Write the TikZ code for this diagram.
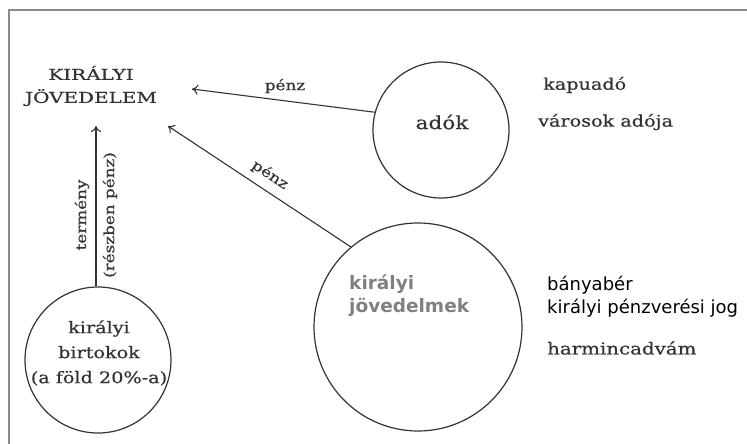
\documentclass[tikz,border=0pt]{standalone}
\usepackage{fontspec}
\setmainfont{DejaVu Serif}[FakeStretch=1.2,FakeBold=0.6]
\newfontfamily\titlef{DejaVu Serif}[FakeStretch=1.33,FakeBold=0.6]
\newfontfamily\sansf{DejaVu Sans}
\usetikzlibrary{arrows.meta}
\definecolor{ink}{HTML}{333333}
\definecolor{frame}{HTML}{8A8A8A}
\definecolor{graytxt}{HTML}{808080}
\begin{document}
\begin{tikzpicture}[x=1pt,y=-1pt,
  ring/.style={circle,draw=ink,line width=1.2pt,inner sep=0pt},
  arr/.style={draw=ink,line width=1.1pt,-{To[length=6pt,width=10pt]}},
  lbl/.style={text=ink,font=\fontsize{14}{16}\selectfont,inner sep=0pt},
  serif/.style={text=ink,align=center,inner sep=0pt},
  side/.style={anchor=west,inner sep=0pt}]
\useasboundingbox (0,0) rectangle (747,444);
\draw[frame,line width=2pt] (9,446) -- (9,10) -- (749,10);
% title
\node[serif,font=\titlef\fontsize{15}{23}\selectfont] (kj) at (91,86) {KIRÁLYI\\JÖVEDELEM};
% circles
\node[ring,minimum size=136pt] (ado) at (441,130) {};
\node[ring,minimum size=208pt] (jov) at (418,327) {};
\node[ring,minimum size=146pt] (birt) at (98,360) {};
% circle texts
\node[serif,font=\fontsize{18}{20}\selectfont] (adot) at (442,122) {adók};
\node[anchor=west,inner sep=0pt,text=graytxt,align=left,font=\sansf\bfseries\fontsize{18.5}{23}\selectfont] (jovt) at (349,296) {királyi\\jövedelmek};
\node[serif,font=\fontsize{16}{25}\selectfont] (birtt) at (99,353) {királyi\\birtokok\\(a föld 20\%-a)};
% tips
\coordinate (t1) at (192,89);
\coordinate (t2) at (168,126);
\coordinate (t3) at (96,126);
\coordinate (b3) at (96,286);
% arrows
\draw[arr] (ado.165) -- (t1);
\draw[arr] (jov.130) -- (t2);
\draw[arr] (b3) -- (t3);
% arrow labels
\node[lbl] (p1) at (285,86) {pénz};
\node[lbl,rotate=-33.6] (p2) at (270,175) {pénz};
\node[lbl,rotate=90] (p3) at (82,215) {termény};
\node[lbl,rotate=90] (p4) at (110,215) {(részben pénz)};
% side lists
\node[side,text=ink,font=\fontsize{16}{18}\selectfont] (s1) at (543,85) {kapuadó};
\node[side,text=ink,font=\fontsize{16}{18}\selectfont] (s2) at (538,122) {városok adója};
\node[side,text=black,font=\sansf\fontsize{18}{20}\selectfont] (s3) at (547,285) {bányabér};
\node[side,text=black,font=\sansf\fontsize{18}{20}\selectfont] (s4) at (547,308) {királyi pénzverési jog};
\node[side,text=ink,font=\fontsize{16.5}{20}\selectfont] (s5) at (547,348) {harmincadvám};
\end{tikzpicture}
\end{document}
